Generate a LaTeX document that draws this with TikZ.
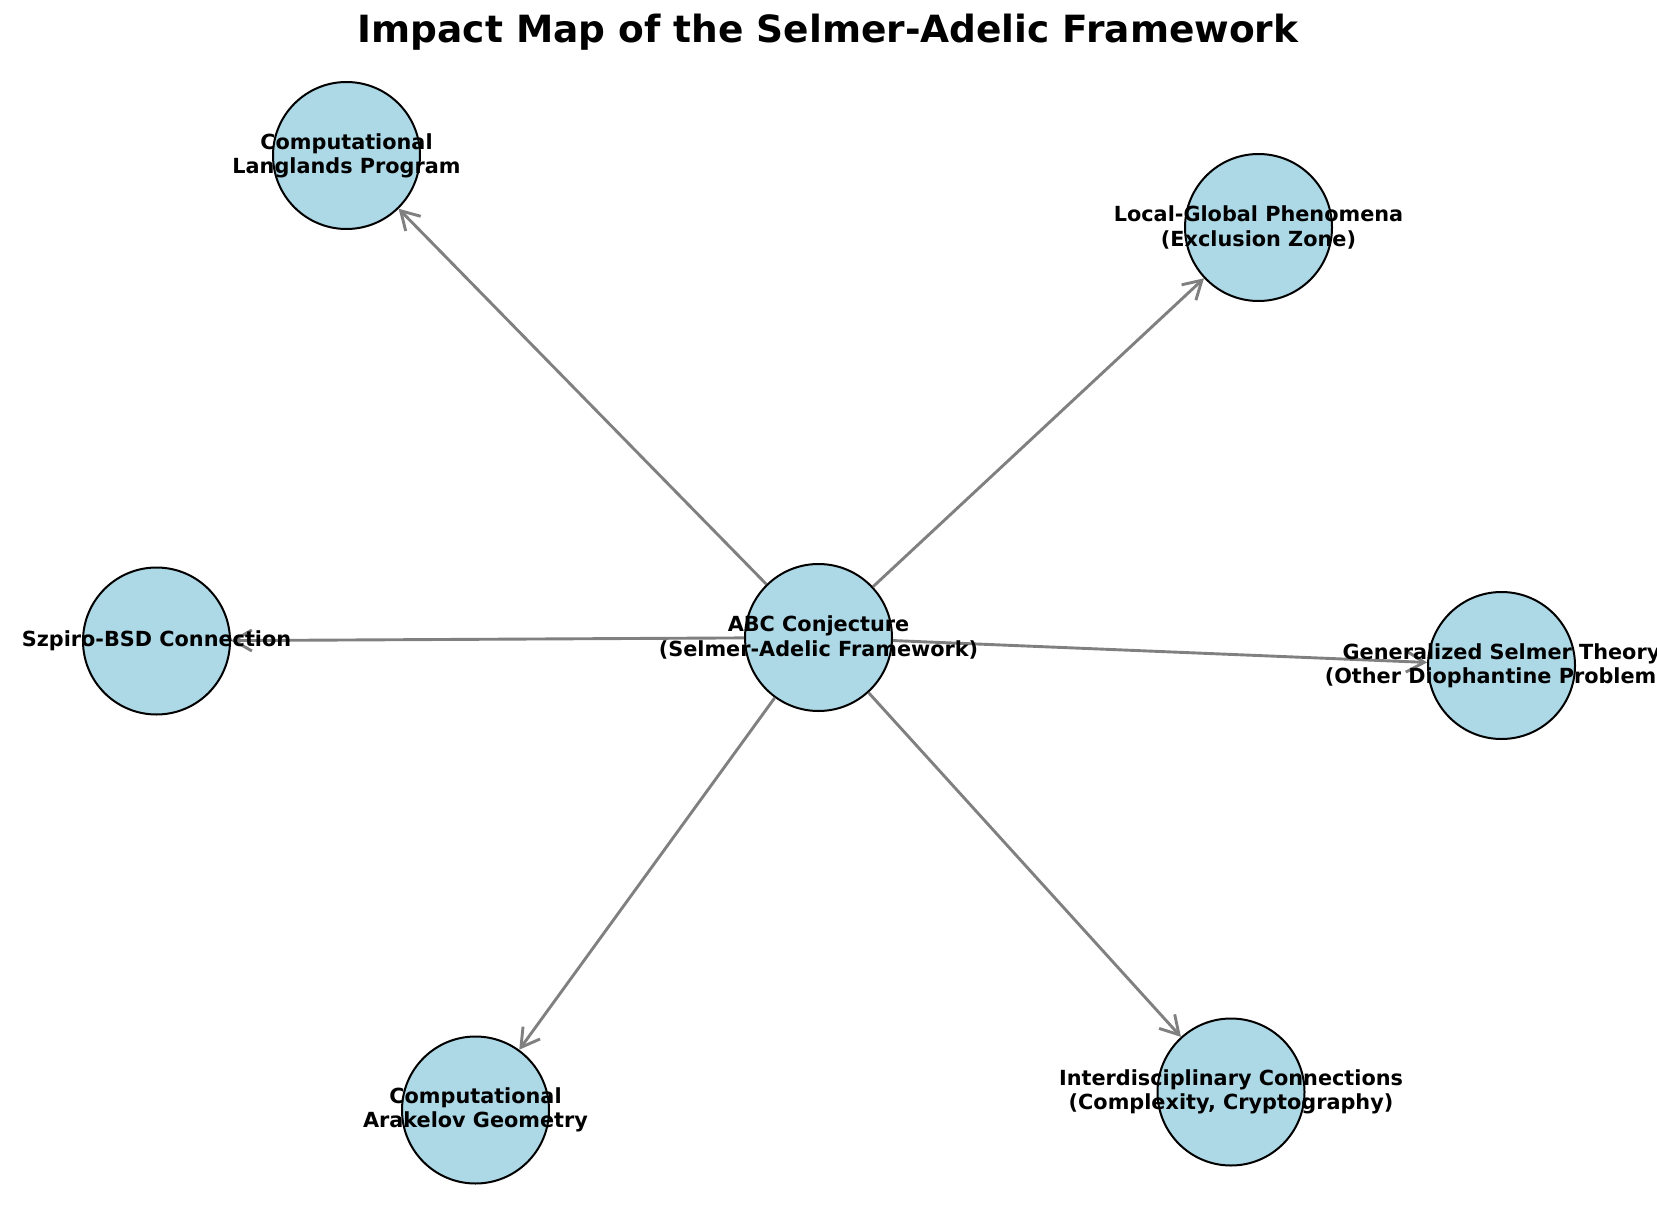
\documentclass[tikz,border=0pt]{standalone}
\usepackage{fontspec}
\setmainfont{DejaVu Sans}
\usetikzlibrary{arrows.meta}
\definecolor{nodeblue}{RGB}{173,216,230}
\definecolor{edgegray}{RGB}{128,128,128}
\begin{document}
\begin{tikzpicture}[x=1pt,y=-1pt,
  topic/.style={circle, draw=black, line width=2pt, fill=nodeblue, minimum size=147pt, inner sep=0pt},
  lbl/.style={font=\fontsize{20.8}{24.3}\selectfont\bfseries, align=center, text=black, inner sep=0pt},
  link/.style={draw=edgegray, line width=2.9pt, -{Straight Barb[length=18pt,width=21pt]}}]
\useasboundingbox (0,0) rectangle (1657,1225);
\clip (0,0) rectangle (1657,1225);
\fill[white] (0,0) rectangle (1657,1225);

% title
\node[font=\fontsize{37.5}{45}\selectfont\bfseries, anchor=base, inner sep=0pt] (title) at (828,43) {Impact Map of the Selmer-Adelic Framework};

% circles
\node[topic] (abc) at (818.5,637.5) {};
\node[topic] (lang) at (346.5,155.5) {};
\node[topic] (loc) at (1258.5,227.5) {};
\node[topic] (szp) at (156.5,641) {};
\node[topic] (gen) at (1501.5,665.5) {};
\node[topic] (ara) at (475.5,1110) {};
\node[topic] (inter) at (1231,1092) {};

% connectors
\draw[link] (abc) -- (lang);
\draw[link] (abc) -- (loc);
\draw[link] (abc) -- (szp);
\draw[link] (abc) -- (gen);
\draw[link] (abc) -- (ara);
\draw[link] (abc) -- (inter);

% labels
\node[lbl] (abc-t) at (abc.center) {ABC Conjecture\\(Selmer-Adelic Framework)};
\node[lbl] (lang-t) at (lang.center) {Computational\\Langlands Program};
\node[lbl] (loc-t) at (loc.center) {Local-Global Phenomena\\(Exclusion Zone)};
\node[lbl] (szp-t) at (szp.center) {Szpiro-BSD Connection};
\node[lbl] (gen-t) at (gen.center) {Generalized Selmer Theory\\(Other Diophantine Problems)};
\node[lbl] (ara-t) at (ara.center) {Computational\\Arakelov Geometry};
\node[lbl] (inter-t) at (inter.center) {Interdisciplinary Connections\\(Complexity, Cryptography)};
\end{tikzpicture}
\end{document}
